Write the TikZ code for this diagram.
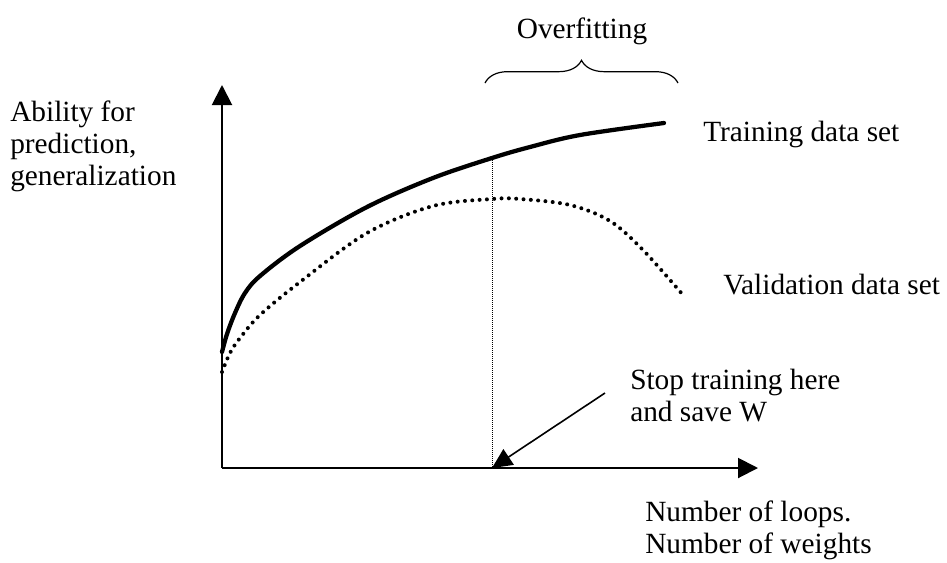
\documentclass[tikz,border=0pt]{standalone}
\usepackage{fontspec}
\setmainfont{Liberation Serif}
\usetikzlibrary{arrows.meta,decorations.pathreplacing}
\begin{document}
\begin{tikzpicture}[x={(0.75pt,0)},y={(0,-0.75pt)},
  lbl/.style={anchor=base west,inner sep=0pt,font=\fontsize{22}{24}\selectfont},
  axisline/.style={line width=1.5pt,-{Triangle[length=15pt,width=15pt]}},
  traincurve/.style={line width=3.2pt,line cap=round,line join=round},
  valcurve/.style={line width=3pt,line cap=round,dash pattern=on 0pt off 5.5pt},
  guide/.style={line width=0.75pt,dash pattern=on 0.75pt off 0.75pt},
  bracestyle/.style={line width=0.9pt,decorate,decoration={brace,amplitude=17pt}}]
\useasboundingbox (0,0) rectangle (947,562);
% coordinates
\coordinate (O) at (222,468);
\coordinate (ytip) at (222,85);
\coordinate (xtip) at (758,468);
\coordinate (stop) at (492,468);
\coordinate (peak) at (492,158);
\coordinate (astart) at (605,393);
\coordinate (bl) at (485,83);
\coordinate (br) at (678,83);
% axes
\draw[axisline] (O) -- (ytip);
\draw[axisline] (O) -- (xtip);
% vertical guide
\draw[guide] (peak) -- (stop);
% training curve
\draw[traincurve] plot[smooth,tension=0.55] coordinates {(222,352) (227,334) (235,313) (245,293) (260,276) (300,246) (367,207) (433,178) (492,158) (530,147) (580,135) (664,123)};
% validation curve
\draw[valcurve] plot[smooth,tension=0.55] coordinates {(222,372) (230,353) (240,338) (260,315) (300,282) (367,233) (433,206) (492,199) (520,199) (570,205) (610,221) (643,250) (683,295)};
% brace
\draw[bracestyle] (bl) -- (br);
% labels
\node[lbl,anchor=base] (over) at (582,38) {Overfitting};
\node[lbl] (ylab) at (10,121) {\begin{tabular}[t]{@{}l@{}}Ability for\\prediction,\\generalization\end{tabular}};
\node[lbl] (train) at (703,141) {Training data set};
\node[lbl] (val) at (723,294) {Validation data set};
\node[lbl] (stoplab) at (630,389) {\begin{tabular}[t]{@{}l@{}}Stop training here\\and save W\end{tabular}};
\node[lbl] (xlab) at (645,521) {\begin{tabular}[t]{@{}l@{}}Number of loops.\\Number of weights\end{tabular}};
% stop arrow
\draw[line width=1.2pt,-{Triangle[length=15pt,width=14pt]}] (astart) -- (stop);
\end{tikzpicture}
\end{document}
